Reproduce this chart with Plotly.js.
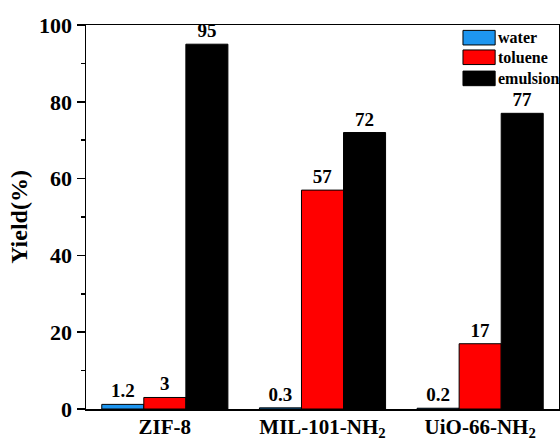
<!DOCTYPE html>
<html>
<head>
<meta charset="utf-8">
<script src="https://cdn.plot.ly/plotly-3.0.1.min.js"></script>
<style>
  html, body { margin: 0; padding: 0; background: #fff; }
  #chart { width: 560px; height: 440px; }
</style>
</head>
<body>
<div id="chart"></div>
<script>
// Yield of each MOF in three reaction media
const catalysts = ['ZIF-8', 'MIL-101-NH<sub>2</sub>', 'UiO-66-NH<sub>2</sub>'];
const seriesNames = ['water', 'toluene', 'emulsion'];
const waterYield = [1.2, 0.3, 0.2];
const tolueneYield = [3, 57, 17];
const emulsionYield = [95, 72, 77];
const seriesColors = ['#1E96F0', '#FF0000', '#000000'];
const yTicks = [0, 20, 40, 60, 80, 100];

const serif = 'Liberation Serif, Tinos, Times New Roman, DejaVu Serif, serif';
const seriesValues = [waterYield, tolueneYield, emulsionYield];

const traces = seriesValues.map((vals, i) => ({
  type: 'bar',
  name: seriesNames[i],
  x: catalysts,
  y: vals,
  text: vals.map(String),
  textposition: 'outside',
  constraintext: 'none',
  cliponaxis: false,
  textfont: { family: serif, size: 19, color: '#000', weight: 'bold' },
  marker: { color: seriesColors[i], line: { color: '#000', width: 1 } },
  showlegend: false,
  hoverinfo: 'skip'
}));

// Legend: swatches and labels in the upper-right corner of the plot
const legX0 = 0.797, legX1 = 0.865, swH = 0.038;
const legY = [0.967, 0.916, 0.861];
const shapes = [];
const annotations = [];
seriesNames.forEach((name, i) => {
  shapes.push({
    type: 'rect', xref: 'paper', yref: 'paper',
    x0: legX0, x1: legX1, y0: legY[i] - swH / 2, y1: legY[i] + swH / 2,
    fillcolor: seriesColors[i], line: { color: '#000', width: 1 }
  });
  annotations.push({
    xref: 'paper', yref: 'paper', x: legX1 + 0.001, y: legY[i],
    xanchor: 'left', yanchor: 'middle', showarrow: false, text: name,
    font: { family: serif, size: 16, color: '#000', weight: 'bold' }
  });
});

const layout = {
  width: 560, height: 440,
  margin: { l: 86, r: 1, t: 25, b: 31 },
  paper_bgcolor: '#fff', plot_bgcolor: '#fff',
  barmode: 'group', bargap: 0.2, bargroupgap: 0,
  font: { family: serif, color: '#000' },
  showlegend: false,
  xaxis: {
    range: [-0.5, 2.5], autorange: false,
    showline: true, linecolor: '#000', linewidth: 1.5, mirror: true,
    ticks: '', showgrid: false, zeroline: false,
    ticklabelstandoff: -2,
    tickfont: { family: serif, size: 21, color: '#000', weight: 'bold' },
    automargin: false
  },
  yaxis: {
    range: [0, 100], autorange: false,
    tickvals: yTicks, ticktext: yTicks.map(String),
    ticks: 'outside', ticklen: 8, tickwidth: 1.5, tickcolor: '#000',
    minor: { dtick: 10, ticks: 'outside', ticklen: 4, tickwidth: 1.5, tickcolor: '#000', showgrid: false },
    showline: true, linecolor: '#000', linewidth: 1.5, mirror: true,
    showgrid: false, zeroline: false,
    tickfont: { family: serif, size: 22, color: '#000', weight: 'bold' },
    title: { text: 'Yield(%)', font: { family: serif, size: 24, color: '#000', weight: 'bold' }, standoff: 4 },
    automargin: false
  },
  shapes: shapes,
  annotations: annotations
};

Plotly.newPlot('chart', traces, layout, { displayModeBar: false, staticPlot: true });
</script>
</body>
</html>
